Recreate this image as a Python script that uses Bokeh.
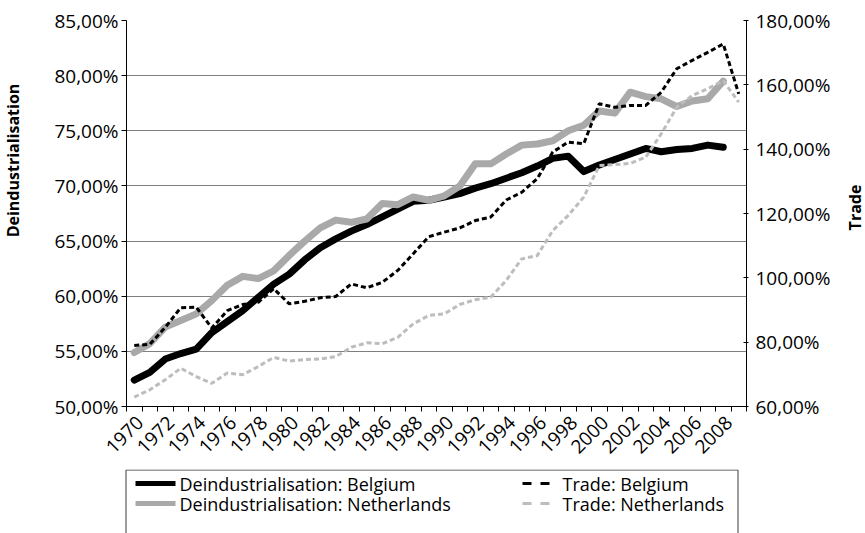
import math
from bokeh.plotting import figure
from bokeh.models import Range1d, LinearAxis, FixedTicker
from bokeh.layouts import column, row
from bokeh.embed import file_html
from bokeh.resources import INLINE
from bokeh.core.properties import value

# ---------------- data ----------------
years = list(range(1970, 2010))
deind_years = list(range(1970, 2009))

deind_belgium = [52.4, 53.1, 54.3, 54.8, 55.2, 56.7, 57.7, 58.7, 59.9, 61.1,
                 62.0, 63.3, 64.4, 65.2, 65.9, 66.5, 67.2, 67.9, 68.6, 68.7,
                 69.0, 69.3, 69.8, 70.2, 70.7, 71.2, 71.8, 72.5, 72.7, 71.3,
                 71.9, 72.4, 72.9, 73.4, 73.1, 73.3, 73.4, 73.7, 73.5]
deind_netherlands = [54.9, 55.7, 57.2, 57.8, 58.4, 59.6, 61.0, 61.8, 61.6, 62.3,
                     63.7, 65.0, 66.2, 66.9, 66.7, 67.0, 68.4, 68.3, 69.0, 68.7,
                     69.1, 70.0, 72.0, 72.0, 72.9, 73.7, 73.8, 74.1, 75.0, 75.5,
                     76.8, 76.6, 78.5, 78.1, 77.9, 77.2, 77.7, 77.9, 79.5]
trade_belgium = [79.0, 79.3, 84.6, 90.7, 90.9, 84.4, 89.8, 91.7, 92.4, 96.6,
                 91.9, 92.7, 93.8, 94.2, 98.1, 96.9, 98.6, 102.3, 107.5, 112.8,
                 114.2, 115.5, 117.8, 118.9, 124.2, 126.6, 130.8, 139.1, 142.2, 141.7,
                 154.1, 153.0, 153.6, 153.6, 157.7, 165.0, 167.6, 170.1, 172.7, 157.2]
trade_netherlands = [62.9, 65.2, 68.3, 71.9, 69.3, 67.2, 70.4, 69.9, 72.4, 75.3,
                     74.1, 74.6, 74.8, 75.5, 78.4, 79.8, 79.5, 81.5, 85.7, 88.3,
                     88.8, 91.7, 93.2, 94.0, 99.2, 105.9, 106.9, 114.7, 119.4, 125.1,
                     134.9, 135.2, 135.6, 137.5, 144.8, 153.0, 156.7, 158.8, 161.3, 154.6]

left_ticks = [50, 55, 60, 65, 70, 75, 80, 85]
left_tick_labels = ["50,00%", "55,00%", "60,00%", "65,00%", "70,00%", "75,00%", "80,00%", "85,00%"]
right_ticks = [60, 80, 100, 120, 140, 160, 180]
right_tick_labels = ["60,00%", "80,00%", "100,00%", "120,00%", "140,00%", "160,00%", "180,00%"]
label_years = list(range(1970, 2009, 2))
legend_labels = ["Deindustrialisation: Belgium", "Deindustrialisation: Netherlands",
                 "Trade: Belgium", "Trade: Netherlands"]
left_title = "Deindustrialisation"
right_title = "Trade"

# ---------------- styles / layout (window pixels) ----------------
FONT = "Open Sans"
BLACK = "#000000"
GRAY_THICK = "#a9a9a9"
GRAY_DASH = "#bdbdbd"
GRID = "#7f7f7f"

W, H = 865, 533
LW, RW = 22, 30            # side strips holding the axis titles
PW = W - LW - RW           # width of plot / legend column
H1 = 469                   # plot height
H2 = H - H1                # legend strip height
FL, FR, FT, FB = 126, 746, 20, 406   # frame edges in window pixels
LABEL_SHIFT = 0.375

p = figure(width=PW, height=H1, output_backend="svg", toolbar_location=None,
           x_range=Range1d(years[0] - 0.5, years[-1] + 0.5),
           y_range=Range1d(left_ticks[0], left_ticks[-1]),
           min_border_left=FL - LW, min_border_right=LW + PW - FR,
           min_border_top=FT, min_border_bottom=H1 - FB)
p.outline_line_color = None
p.background_fill_color = "white"
p.border_fill_color = "white"
p.extra_y_ranges = {"trade": Range1d(right_ticks[0], right_ticks[-1])}

# lines
p.line(deind_years, deind_belgium, line_color=BLACK, line_width=7,
       line_join="round", line_cap="round")
p.line(deind_years, deind_netherlands, line_color=GRAY_THICK, line_width=7,
       line_join="round", line_cap="round")
p.line(years, trade_belgium, y_range_name="trade", line_color=BLACK, line_width=3,
       line_dash="5 3")
p.line(years, trade_netherlands, y_range_name="trade", line_color=GRAY_DASH, line_width=3,
       line_dash="5 3")

# grid
p.xgrid.visible = False
p.ygrid.ticker = FixedTicker(ticks=left_ticks[1:-1])
p.ygrid.grid_line_color = GRID
p.ygrid.grid_line_width = 1

# x axis: labels every 2 years, tick marks at every category boundary
xa = p.xaxis[0]
label_pos = [y + LABEL_SHIFT for y in label_years]
xa.ticker = FixedTicker(ticks=label_pos,
                       minor_ticks=[y - 0.5 for y in years] + [years[-1] + 0.5])
xa.major_label_overrides = {pos: str(y) for pos, y in zip(label_pos, label_years)}
xa.major_tick_line_color = None
xa.major_tick_out = 0
xa.major_tick_in = 0
xa.minor_tick_line_color = BLACK
xa.minor_tick_out = 5
xa.minor_tick_in = 0
xa.major_label_orientation = math.pi / 4
xa.major_label_standoff = 8

# left axis
ya = p.yaxis[0]
ya.ticker = FixedTicker(ticks=left_ticks)
ya.major_label_overrides = dict(zip(left_ticks, left_tick_labels))
ya.major_tick_out = 5
ya.major_tick_in = 0
ya.minor_tick_line_color = None
ya.major_label_standoff = 3

# right axis
ra = LinearAxis(y_range_name="trade", ticker=FixedTicker(ticks=right_ticks))
ra.major_label_overrides = dict(zip(right_ticks, right_tick_labels))
ra.major_tick_out = 2
ra.major_tick_in = 3
ra.minor_tick_line_color = None
ra.major_label_standoff = 7
p.add_layout(ra, "right")

for ax in (xa, ya, ra):
    ax.axis_line_color = BLACK
    ax.axis_line_width = 1
    ax.major_label_text_font = FONT
    ax.major_label_text_font_size = "19px"
    ax.major_label_text_color = BLACK


def strip(width, height, x0, y0):
    """A bare figure whose data coordinates are window pixels."""
    f = figure(width=width, height=height, output_backend="svg", toolbar_location=None,
               x_range=Range1d(x0, x0 + width), y_range=Range1d(y0 + height, y0),
               min_border=0, x_axis_location=None, y_axis_location=None)
    f.outline_line_color = None
    f.grid.visible = False
    f.border_fill_color = "white"
    f.background_fill_color = "white"
    return f


# ---------------- axis title strips ----------------
lt = strip(LW, H, 0, 0)
lt.text(x=[12], y=[160], text=[left_title], angle=math.pi / 2,
        text_font=value(FONT), text_font_size="16px", text_font_style="bold",
        text_align="center", text_baseline="middle", text_color=BLACK)
rt = strip(RW, H, LW + PW, 0)
rt.text(x=[854], y=[207], text=[right_title], angle=math.pi / 2,
        text_font=value(FONT), text_font_size="16px", text_font_style="bold",
        text_align="center", text_baseline="middle", text_color=BLACK)

# ---------------- legend strip ----------------
q = strip(PW, H2, LW, H1)

BOX_L, BOX_R, BOX_T = 125.5, 737.5, 469.5
q.line([BOX_L, BOX_L, BOX_R, BOX_R], [H + 10, BOX_T, BOX_T, H + 10],
       line_color="#3a3a3a", line_width=1)

rows = [483, 503]
swatch_x = [(135, 175), (135, 175), (522, 550), (522, 550)]
text_x = [179, 179, 562, 562]
colors = [BLACK, GRAY_THICK, BLACK, GRAY_DASH]
widths = [5, 5, 3, 3]
dashes = ["solid", "solid", "9 9", "9 9"]
for i, lab in enumerate(legend_labels):
    yy = rows[i % 2]
    q.line([swatch_x[i][0], swatch_x[i][1]], [yy, yy], line_color=colors[i],
           line_width=widths[i], line_dash=dashes[i])
    q.text(x=[text_x[i]], y=[yy], text=[lab], text_font=value(FONT),
           text_font_size="18px", text_baseline="middle", text_align="left",
           text_color=BLACK)

for fig in (p, q, lt, rt):
    fig.frame_align = False

layout = row(lt, column(p, q, spacing=0), rt, spacing=0)
open("out.html", "w").write(file_html(layout, INLINE))
